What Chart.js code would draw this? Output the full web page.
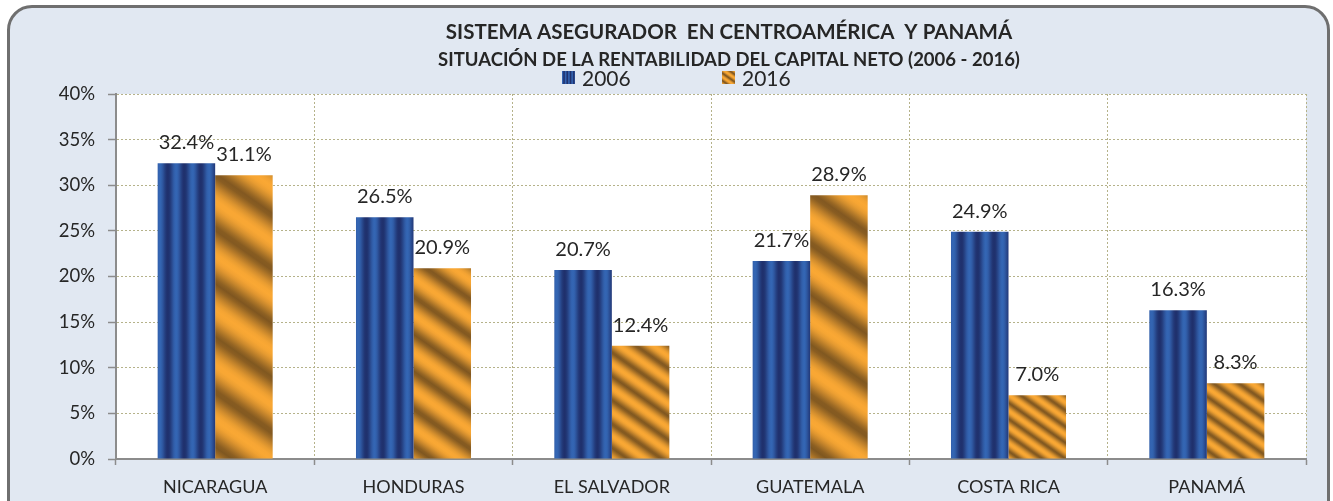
<!DOCTYPE html>
<html><head><meta charset="utf-8">
<script src="https://cdn.jsdelivr.net/npm/chart.js@4/dist/chart.umd.min.js"></script>
<style>
html,body{margin:0;padding:0;background:#fff;overflow:hidden;width:1333px;height:501px}
#frame{position:absolute;left:7px;top:5px;width:1323px;height:540px;box-sizing:border-box;border:3px solid #6f6f6f;border-radius:25px;background:#E1E8F2}
#wrap{position:absolute;left:0;top:0;width:1333px;height:501px}
</style></head><body>
<div id="frame"></div>
<div id="wrap"><canvas id="c" width="1333" height="501"></canvas></div>
<script>
const categories = ['NICARAGUA', 'HONDURAS', 'EL SALVADOR', 'GUATEMALA', 'COSTA RICA', 'PANAMÁ'];
const values2006 = [32.4, 26.5, 20.7, 21.7, 24.9, 16.3];
const values2016 = [31.1, 20.9, 12.4, 28.9, 7.0, 8.3];
const seriesNames = ['2006', '2016'];
const yMin = 0, yMax = 40, yStep = 5;
const titleText = 'SISTEMA ASEGURADOR  EN CENTROAMÉRICA  Y PANAMÁ';
const subtitleText = 'SITUACIÓN DE LA RENTABILIDAD DEL CAPITAL NETO (2006 - 2016)';

const FONT = 'Lato, "Open Sans", sans-serif';
const TXT = '#262626';
const CAT_PCT = 0.58;

function lerpColor(a, b, t) {
  const r = Math.round(a[0] + (b[0] - a[0]) * t), g = Math.round(a[1] + (b[1] - a[1]) * t), bl = Math.round(a[2] + (b[2] - a[2]) * t);
  return 'rgb(' + r + ',' + g + ',' + bl + ')';
}
const BLUE_D = [31, 48, 108], BLUE_L = [52, 102, 180];
const GOLD_D = [126, 86, 32], GOLD_L = [250, 168, 52];

function blueGradient(c, left, right, cycles) {
  const g = c.createLinearGradient(left, 0, right, 0);
  const n = 40;
  for (let k = 0; k <= n; k++) {
    const t = k / n;
    const v = (1 - Math.cos(2 * Math.PI * cycles * t + Math.PI * 0.75)) / 2;
    g.addColorStop(t, lerpColor(BLUE_D, BLUE_L, v));
  }
  return g;
}
function goldGradient(c, left, top, right, bottom, cycles) {
  const th = 35 * Math.PI / 180;
  const nx = Math.sin(th), ny = -Math.cos(th);
  const cx = (left + right) / 2, cy = (top + bottom) / 2;
  const w = right - left, h = bottom - top;
  const D = Math.sqrt(w * w + h * h);
  const g = c.createLinearGradient(cx - nx * D / 2, cy - ny * D / 2, cx + nx * D / 2, cy + ny * D / 2);
  const n = 80;
  for (let k = 0; k <= n; k++) {
    const t = k / n;
    const v = Math.pow((1 + Math.cos(2 * Math.PI * cycles * t)) / 2, 0.7);
    g.addColorStop(t, lerpColor(GOLD_D, GOLD_L, v));
  }
  return g;
}

function barRect(chart, di, i) {
  const xs = chart.scales.x, ys = chart.scales.y;
  const catW = xs.width / categories.length;
  const groupW = catW * CAT_PCT;
  const slot = groupW / 2;
  const cx = xs.getPixelForValue(i) - groupW / 2 + slot * (di + 0.5);
  const val = chart.data.datasets[di].data[i];
  return { left: cx - slot / 2, right: cx + slot / 2, top: ys.getPixelForValue(val), bottom: ys.getPixelForValue(0) };
}

function fillFor(di) {
  return function (ctx) {
    const chart = ctx.chart;
    if (!chart.chartArea || ctx.type !== 'data') return di === 0 ? '#2a4a92' : '#c58a2c';
    const r = barRect(chart, di, ctx.dataIndex);
    if (di === 0) return blueGradient(chart.ctx, r.left, r.right, 3.5);
    return goldGradient(chart.ctx, r.left, r.top, r.right, r.bottom, 6.5);
  };
}

const plotBg = {
  id: 'plotBg',
  beforeDraw(chart) {
    const a = chart.chartArea, c = chart.ctx;
    c.save(); c.fillStyle = '#ffffff'; c.fillRect(a.left, a.top, a.right - a.left, a.bottom - a.top); c.restore();
  }
};

const headerAndLegend = {
  id: 'headerAndLegend',
  afterDraw(chart) {
    const c = chart.ctx;
    c.save();
    c.fillStyle = TXT;
    c.textAlign = 'center';
    c.textBaseline = 'middle';
    c.font = 'bold 20.5px ' + FONT;
    c.fillText(titleText, 729, 32);
    c.font = 'bold 18.5px ' + FONT;
    c.fillText(subtitleText, 729, 60);
    // legend
    const items = [{ x: 562, di: 0 }, { x: 722, di: 1 }];
    c.font = '21px ' + FONT;
    c.textAlign = 'left';
    items.forEach(it => {
      const bx = it.x, by = 71, s = 13;
      c.fillStyle = it.di === 0 ? blueGradient(c, bx, bx + s, 4) : goldGradient(c, bx, by, bx + s, by + s, 3);
      c.fillRect(bx, by, s, s);
      c.fillStyle = TXT;
      c.fillText(seriesNames[it.di], bx + s + 7, 79);
    });
    c.restore();
  }
};

const valueLabels = {
  id: 'valueLabels',
  afterDatasetsDraw(chart) {
    const c = chart.ctx;
    c.save();
    c.fillStyle = TXT;
    c.font = '20px ' + FONT;
    c.textAlign = 'center';
    c.textBaseline = 'alphabetic';
    chart.data.datasets.forEach((ds, di) => {
      chart.getDatasetMeta(di).data.forEach((bar, i) => {
        c.fillText(ds.data[i].toFixed(1) + '%', bar.x, bar.y - 14);
      });
    });
    c.restore();
  }
};

new Chart(document.getElementById('c'), {
  type: 'bar',
  data: {
    labels: categories,
    datasets: [
      { label: seriesNames[0], data: values2006, backgroundColor: fillFor(0), borderWidth: 0 },
      { label: seriesNames[1], data: values2016, backgroundColor: fillFor(1), borderWidth: 0 }
    ]
  },
  options: {
    responsive: false,
    animation: false,
    devicePixelRatio: 1,
    layout: { padding: { top: 94, right: 27, bottom: 0, left: 0 } },
    datasets: { bar: { categoryPercentage: CAT_PCT, barPercentage: 1 } },
    plugins: { legend: { display: false }, title: { display: false }, tooltip: { enabled: false } },
    scales: {
      x: {
        afterFit(s) { s.height = 42; },
        grid: { color: '#b5b28a', lineWidth: 1, offset: true, drawTicks: true, tickLength: 6, tickColor: '#8c8c8c', tickWidth: 1.5, tickBorderDash: [] },
        border: { display: true, color: '#8c8c8c', width: 2, dash: [2, 2] },
        ticks: { color: TXT, font: { family: FONT, size: 18 }, padding: 11, maxRotation: 0, autoSkip: false }
      },
      y: {
        min: yMin, max: yMax,
        afterFit(s) { s.width = 116; },
        grid: { color: '#b5b28a', lineWidth: 1, drawTicks: true, tickLength: 8, tickColor: '#8c8c8c', tickWidth: 1.5, tickBorderDash: [] },
        border: { display: true, color: '#8c8c8c', width: 2, dash: [2, 2] },
        ticks: { stepSize: yStep, color: TXT, font: { family: FONT, size: 18.5 }, padding: 13, callback: v => v + '%' }
      }
    }
  },
  plugins: [plotBg, valueLabels, headerAndLegend]
});
</script>
</body></html>
